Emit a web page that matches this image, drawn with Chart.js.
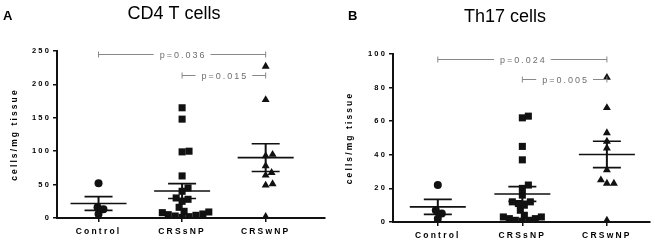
<!DOCTYPE html>
<html>
<head>
<meta charset="utf-8">
<script src="https://cdn.jsdelivr.net/npm/chart.js@4.4.0/dist/chart.umd.min.js"></script>
<style>
  body { margin: 0; background: #fff; }
  #wrap { position: relative; width: 655px; height: 245px; }
  canvas { position: absolute; top: 0; }
</style>
</head>
<body>
<div id="wrap">
  <canvas id="cd4" width="330" height="245" style="left:0"></canvas>
  <canvas id="th17" width="325" height="245" style="left:330px"></canvas>
</div>
<script>
// values
const groups = ['Control', 'CRSsNP', 'CRSwNP'];
const pointStyles = ['circle', 'rect', 'triangle'];

const cd4Control = [52, 16, 13, 6];
const cd4CRSsNP = [165, 148, 99, 100, 63, 45, 40, 30, 28, 25, 16, 10, 9, 8, 6, 5, 4, 3, 2, 1];
const cd4CRSwNP = [227, 177, 95, 93, 78, 68, 64, 51, 49, 2];
const cd4Ticks = [0, 50, 100, 150, 200, 250];
const cd4PValues = ['p=0.036', 'p=0.015'];

const th17Control = [22, 7, 5, 2];
const th17CRSsNP = [63, 62, 45, 37, 22, 20, 16, 12, 12, 11, 10, 7, 4, 3, 3, 2, 2, 1, 1, 0.5];
const th17CRSwNP = [86, 68, 53, 48, 44, 31, 23, 23, 25, 1];
const th17Ticks = [0, 20, 40, 60, 80, 100];
const th17PValues = ['p=0.024', 'p=0.005'];

const FONT = '"Liberation Sans", Arial, sans-serif';
const INK = '#111';

function mean(a) { return a.reduce((s, v) => s + v, 0) / a.length; }
function sem(a) {
  const m = mean(a);
  const sd = Math.sqrt(a.reduce((s, v) => s + (v - m) * (v - m), 0) / (a.length - 1));
  return sd / Math.sqrt(a.length);
}

// simple beeswarm: push points sideways until they stop overlapping
function swarm(values, pxPerX, pxPerY, diam) {
  const order = values.map((v, i) => i).sort((a, b) => values[a] - values[b]);
  const placed = [];
  const offs = new Array(values.length).fill(0);
  order.forEach(i => {
    const y = values[i] * pxPerY;
    for (let k = 0; k < 200; k++) {
      const dx = (k % 2 ? 1 : -1) * Math.ceil(k / 2);
      const ok = placed.every(p => Math.hypot(p.x - dx, p.y - y) >= diam);
      if (ok) {
        placed.push({ x: dx, y });
        offs[i] = dx / pxPerX;
        break;
      }
    }
  });
  return offs;
}

function makeChart(id, cfg) {
  const plotW = cfg.width - cfg.left - cfg.right;
  const plotH = cfg.bottom - cfg.top;
  const pxPerX = plotW / (cfg.xMax - cfg.xMin);
  const pxPerY = plotH / cfg.yMax;

  const datasets = cfg.series.map((vals, i) => {
    const offs = swarm(vals, pxPerX, pxPerY, 6.2);
    return {
      label: groups[i],
      data: vals.map((v, j) => ({ x: i + 1 + offs[j], y: v })),
      pointStyle: pointStyles[i],
      pointRadius: i === 0 ? 4 : (i === 1 ? 5 : 4.6),
      backgroundColor: INK,
      borderColor: INK,
      borderWidth: 0
    };
  });

  const decor = {
    id: 'decor',
    beforeDraw(chart) {
      chart.ctx.letterSpacing = '2.2px';
    },
    afterDatasetsDraw(chart) {
      const ctx = chart.ctx;
      const xs = chart.scales.x, ys = chart.scales.y;
      ctx.save();
      ctx.strokeStyle = INK;
      cfg.series.forEach((vals, i) => {
        const xc = xs.getPixelForValue(i + 1);
        const m = mean(vals), e = sem(vals);
        const ym = ys.getPixelForValue(m);
        const yu = ys.getPixelForValue(m + e);
        const yl = ys.getPixelForValue(m - e);
        ctx.lineWidth = 1.6;
        ctx.beginPath();
        ctx.moveTo(xc - 28, ym); ctx.lineTo(xc + 28, ym);
        ctx.moveTo(xc - 14, yu); ctx.lineTo(xc + 14, yu);
        ctx.moveTo(xc - 14, yl); ctx.lineTo(xc + 14, yl);
        ctx.stroke();
        ctx.lineWidth = 2;
        ctx.beginPath();
        ctx.moveTo(xc, yu); ctx.lineTo(xc, yl);
        ctx.stroke();
      });
      ctx.restore();
    },
    afterDraw(chart) {
      const ctx = chart.ctx;
      const xs = chart.scales.x, ys = chart.scales.y;
      ctx.save();
      // p-value brackets
      cfg.brackets.forEach((b, k) => {
        const x1 = xs.getPixelForValue(b.from);
        const x2 = xs.getPixelForValue(b.to);
        const y = Math.round(ys.getPixelForValue(b.level)) + 0.5;
        ctx.font = '9px ' + FONT;
        ctx.letterSpacing = '2px';
        const text = cfg.pValues[k];
        const tw = ctx.measureText(text).width;
        const mid = (x1 + x2) / 2;
        const gap = tw / 2 + 5;
        ctx.strokeStyle = '#888';
        ctx.lineWidth = 1;
        ctx.beginPath();
        ctx.moveTo(x1, y); ctx.lineTo(mid - gap, y);
        ctx.moveTo(mid + gap, y); ctx.lineTo(x2, y);
        ctx.moveTo(x1, y - 3); ctx.lineTo(x1, y + 3);
        ctx.moveTo(x2, y - 3); ctx.lineTo(x2, y + 3);
        ctx.stroke();
        ctx.fillStyle = '#6e6e6e';
        ctx.textAlign = 'center';
        ctx.textBaseline = 'middle';
        ctx.fillText(text, mid + 1, y + 1);
      });
      // y axis title
      ctx.save();
      ctx.translate(cfg.yTitleX, (chart.chartArea.top + chart.chartArea.bottom) / 2);
      ctx.rotate(-Math.PI / 2);
      ctx.font = 'bold 8.5px ' + FONT;
      ctx.letterSpacing = '2.1px';
      ctx.fillStyle = '#000';
      ctx.textAlign = 'center';
      ctx.textBaseline = 'middle';
      ctx.fillText('cells/mg tissue', 0, 0);
      ctx.restore();
      // chart title and panel letter
      ctx.letterSpacing = '0px';
      ctx.fillStyle = '#000';
      ctx.textAlign = 'center';
      ctx.textBaseline = 'middle';
      ctx.font = '18px ' + FONT;
      ctx.fillText(cfg.title, cfg.titleX, cfg.titleY);
      ctx.textAlign = 'left';
      ctx.font = 'bold 13px ' + FONT;
      ctx.fillText(cfg.letter, cfg.letterX, 16);
      ctx.restore();
    }
  };

  return new Chart(document.getElementById(id), {
    type: 'scatter',
    data: { datasets },
    options: {
      responsive: false,
      animation: false,
      layout: { padding: { left: 0, top: cfg.top, right: cfg.right, bottom: 0 } },
      plugins: { legend: { display: false }, tooltip: { enabled: false } },
      scales: {
        x: {
          type: 'linear',
          min: cfg.xMin,
          max: cfg.xMax,
          afterBuildTicks: s => { s.ticks = groups.map((g, i) => ({ value: i + 1 })); },
          afterFit: s => { s.height = cfg.height - cfg.bottom; },
          ticks: {
            autoSkip: false,
            maxRotation: 0,
            padding: 5,
            color: '#000',
            font: { family: FONT, size: 8.5, weight: 'bold' },
            callback: v => groups[Math.round(v) - 1]
          },
          grid: { drawOnChartArea: false, drawTicks: true, tickLength: 4, color: INK, lineWidth: 1.5 },
          border: { color: INK, width: 2 }
        },
        y: {
          min: 0,
          max: cfg.yMax,
          afterBuildTicks: s => { s.ticks = cfg.ticks.map(v => ({ value: v })); },
          afterFit: s => { s.width = cfg.left; },
          ticks: {
            padding: 2,
            color: '#000',
            font: { family: FONT, size: 7.5, weight: 'bold' }
          },
          grid: { drawOnChartArea: false, drawTicks: true, tickLength: 4, color: INK, lineWidth: 1.5 },
          border: { color: INK, width: 2 }
        }
      }
    },
    plugins: [decor]
  });
}

makeChart('cd4', {
  width: 330, height: 245,
  left: 57, right: 2, top: 51, bottom: 218,
  xMin: 0.503, xMax: 3.71, yMax: 250,
  ticks: cd4Ticks,
  series: [cd4Control, cd4CRSsNP, cd4CRSwNP],
  pValues: cd4PValues,
  brackets: [{ from: 1, to: 3, level: 245 }, { from: 2, to: 3, level: 214 }],
  title: 'CD4 T cells', titleX: 174, titleY: 14,
  letter: 'A', letterX: 3,
  yTitleX: 15
});

makeChart('th17', {
  width: 325, height: 245,
  left: 63, right: 5, top: 54, bottom: 222,
  xMin: 0.47, xMax: 3.51, yMax: 100,
  ticks: th17Ticks,
  series: [th17Control, th17CRSsNP, th17CRSwNP],
  pValues: th17PValues,
  brackets: [{ from: 1, to: 3, level: 97 }, { from: 2, to: 3, level: 85 }],
  title: 'Th17 cells', titleX: 175, titleY: 17,
  letter: 'B', letterX: 18,
  yTitleX: 20
});
</script>
</body>
</html>
